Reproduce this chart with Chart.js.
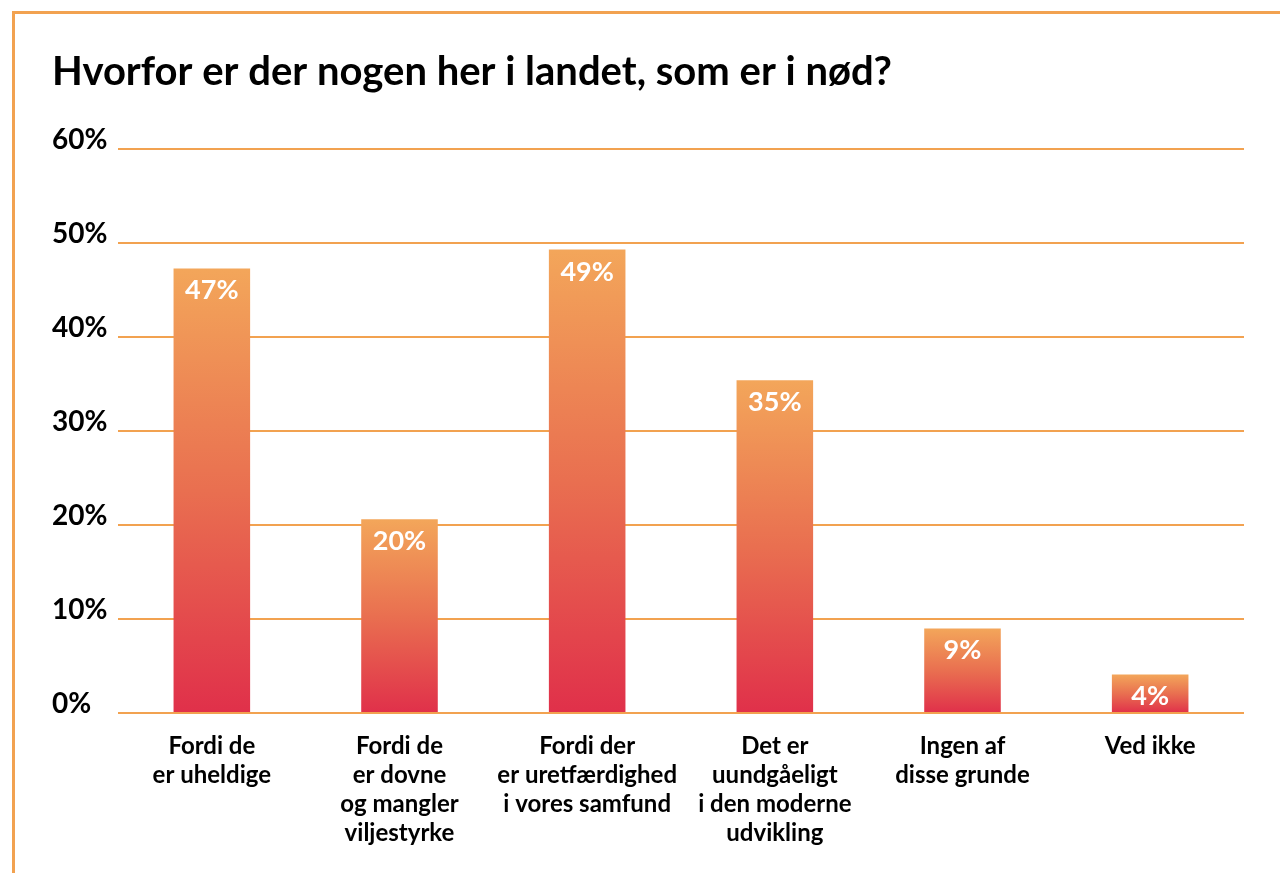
<!DOCTYPE html>
<html>
<head>
<meta charset="utf-8">
<script src="https://cdn.jsdelivr.net/npm/chart.js@4"></script>
<style>
  body { margin: 0; background: #fff; overflow: hidden; }
  #frame {
    position: absolute; left: 12px; top: 11px;
    width: 1400px; height: 1000px;
    border: 3px solid #f2a250;
  }
  #chart { position: absolute; left: 0; top: 0; }
</style>
</head>
<body>
<div id="frame"></div>
<canvas id="chart" width="1280" height="873"></canvas>
<script>
const categories = [
  ['Fordi de', 'er uheldige'],
  ['Fordi de', 'er dovne', 'og mangler', 'viljestyrke'],
  ['Fordi der', 'er uretfærdighed', 'i vores samfund'],
  ['Det er', 'uundgåeligt', 'i den moderne', 'udvikling'],
  ['Ingen af', 'disse grunde'],
  ['Ved ikke'],
];
const values = [47.3, 20.6, 49.3, 35.4, 9.0, 4.1];
const valueLabels = ['47%', '20%', '49%', '35%', '9%', '4%'];
const yTicks = [0, 10, 20, 30, 40, 50, 60];

const ORANGE = '#f2a250';
const FONT = 'Lato, "Open Sans", sans-serif';

function barGradient(context) {
  const chart = context.chart;
  const y = chart.scales.y;
  if (!y || context.dataIndex === undefined) return ORANGE;
  const top = y.getPixelForValue(values[context.dataIndex]);
  const bottom = y.getPixelForValue(0);
  if (!isFinite(top) || !isFinite(bottom)) return ORANGE;
  const g = chart.ctx.createLinearGradient(0, top, 0, bottom);
  g.addColorStop(0, '#f3a65a');
  g.addColorStop(0.5, '#e96f50');
  g.addColorStop(1, '#e0304a');
  return g;
}

const valueLabelPlugin = {
  id: 'valueLabels',
  afterDatasetsDraw(chart) {
    const ctx = chart.ctx;
    const meta = chart.getDatasetMeta(0);
    ctx.save();
    ctx.fillStyle = '#ffffff';
    ctx.font = 'bold 27px ' + FONT;
    ctx.textAlign = 'center';
    ctx.textBaseline = 'alphabetic';
    meta.data.forEach((bar, i) => {
      ctx.fillText(valueLabels[i], bar.x, bar.y + 31);
    });
    ctx.restore();
  },
};

new Chart(document.getElementById('chart'), {
  type: 'bar',
  data: {
    labels: categories,
    datasets: [{
      data: values,
      backgroundColor: barGradient,
      borderWidth: 0,
      barPercentage: 0.408,
      categoryPercentage: 1,
    }],
  },
  options: {
    responsive: false,
    animation: false,
    layout: { padding: { left: 52, right: 36, top: 0, bottom: 0 } },
    plugins: {
      legend: { display: false },
      tooltip: { enabled: false },
      title: {
        display: true,
        text: 'Hvorfor er der nogen her i landet, som er i nød?',
        align: 'start',
        color: '#000',
        font: { family: FONT, size: 40, weight: 'bold' },
        padding: { top: 48, bottom: 53 },
      },
    },
    scales: {
      x: {
        grid: { display: false },
        border: { display: false },
        ticks: {
          color: '#000',
          font: { family: FONT, size: 24, weight: 'bold', lineHeight: 1.2 },
          padding: 11,
          maxRotation: 0,
          autoSkip: false,
        },
        afterFit(scale) { scale.height = 160; },
      },
      y: {
        min: 0,
        max: 60,
        afterBuildTicks(scale) {
          scale.ticks = yTicks.map((v) => ({ value: v }));
        },
        grid: {
          color: ORANGE,
          lineWidth: 2,
          drawTicks: false,
        },
        border: { display: false },
        ticks: {
          color: '#000',
          font: { family: FONT, size: 28, weight: 'bold' },
          crossAlign: 'far',
          padding: 0,
          labelOffset: -9,
          callback: (v) => v + '%',
        },
        afterFit(scale) { scale.width = 66; },
      },
    },
  },
  plugins: [valueLabelPlugin],
});
</script>
</body>
</html>
